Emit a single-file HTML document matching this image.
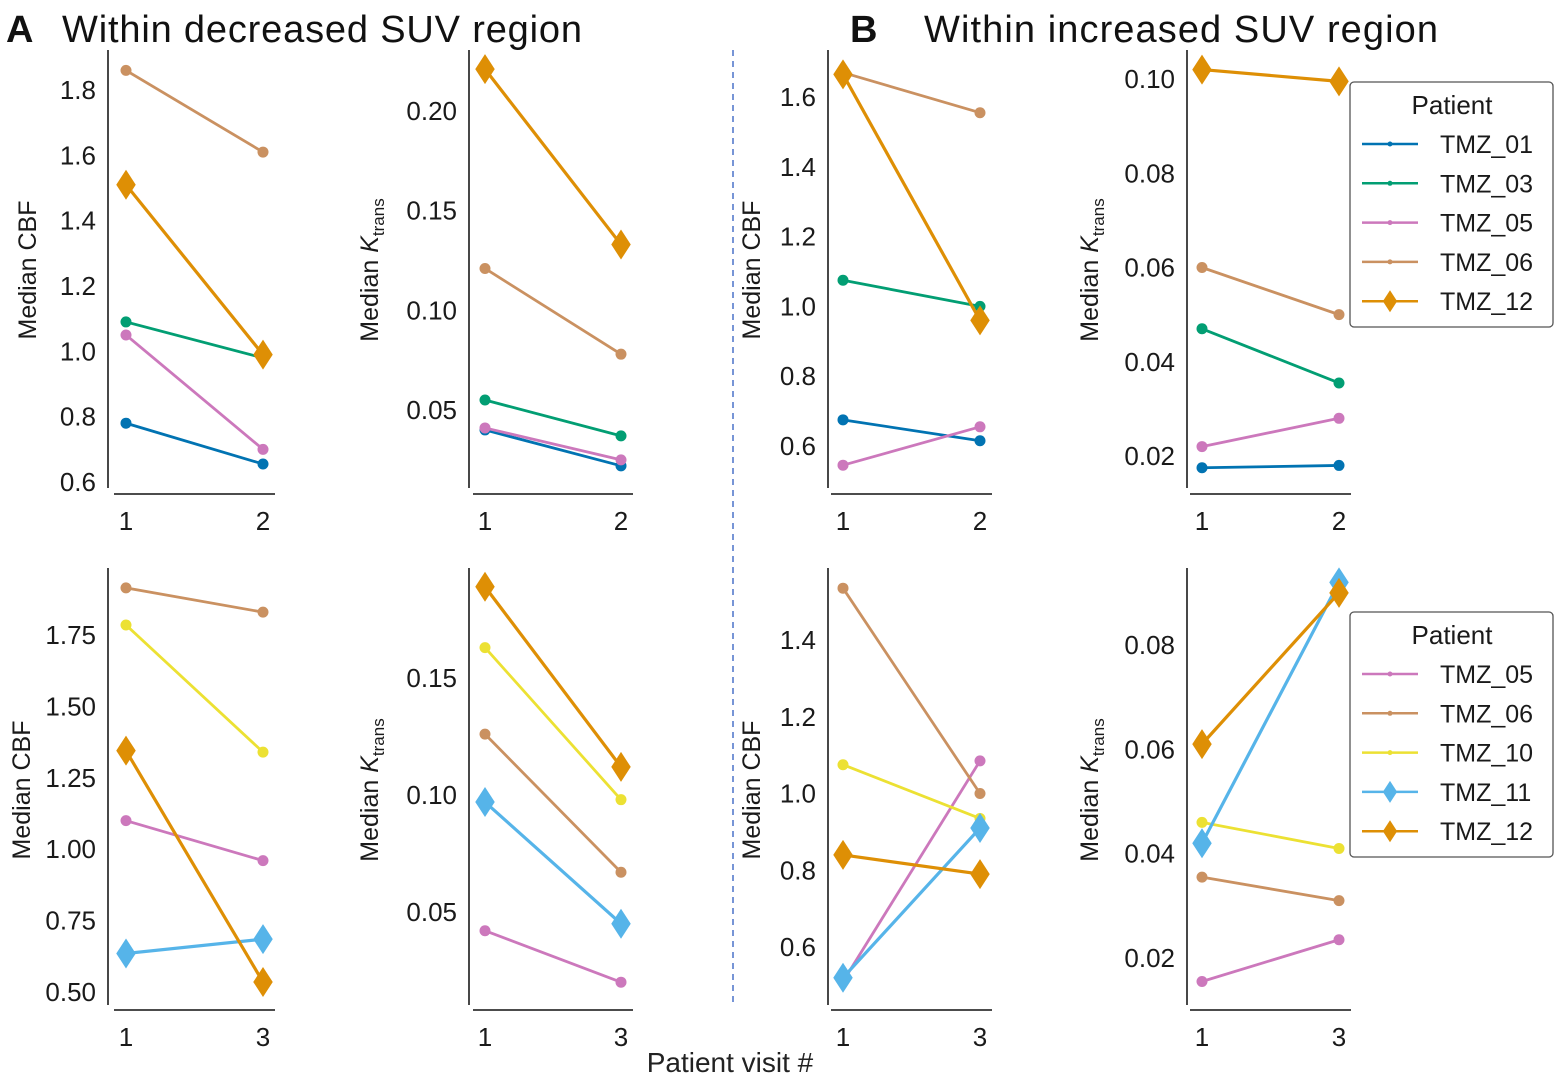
<!DOCTYPE html>
<html><head><meta charset="utf-8"><style>
html,body{margin:0;padding:0;background:#fff;}
svg{display:block;font-family:"Liberation Sans",Arial,sans-serif;}
</style></head><body>
<svg id="fig" width="1559" height="1080" viewBox="0 0 1559 1080" xmlns="http://www.w3.org/2000/svg">
<text x="6" y="42" font-size="38" font-weight="bold" fill="#111">A</text>
<text x="62" y="42" font-size="38" fill="#111" textLength="520">Within decreased SUV region</text>
<text x="850" y="42" font-size="38" font-weight="bold" fill="#111">B</text>
<text x="924" y="42" font-size="38" fill="#111" textLength="514">Within increased SUV region</text>
<line x1="733" y1="50" x2="733" y2="1002" stroke="#4a72c8" stroke-width="1.5" stroke-dasharray="6,5"/>
<text x="730" y="1072" font-size="28" text-anchor="middle" fill="#222">Patient visit #</text>
<g id="plots"></g>
</svg>
<script>
const colors={TMZ_01:"#0173b2",TMZ_03:"#029e73",TMZ_05:"#cc78bc",TMZ_06:"#ca9161",TMZ_10:"#ece133",TMZ_11:"#56b4e9",TMZ_12:"#de8f05"};
const diamonds=["TMZ_11","TMZ_12"];
const topPatients=["TMZ_01","TMZ_03","TMZ_05","TMZ_06","TMZ_12"];
const botPatients=["TMZ_05","TMZ_06","TMZ_10","TMZ_11","TMZ_12"];
const topVisits=["1","2"];
const botVisits=["1","3"];
// values per patient: [visit a, visit b]
const a1Values=[[0.78,0.655],[1.09,0.98],[1.05,0.70],[1.86,1.61],[1.51,0.99]];
const a2Values=[[0.040,0.022],[0.055,0.037],[0.041,0.025],[0.121,0.078],[0.221,0.133]];
const b1Values=[[0.675,0.615],[1.075,1.0],[0.545,0.655],[1.67,1.555],[1.665,0.96]];
const b2Values=[[0.0175,0.018],[0.047,0.0355],[0.022,0.028],[0.060,0.050],[0.102,0.0995]];
const a3Values=[[1.10,0.96],[1.915,1.83],[1.785,1.34],[0.635,0.685],[1.345,0.535]];
const a4Values=[[0.042,0.020],[0.126,0.067],[0.163,0.098],[0.097,0.045],[0.189,0.112]];
const b3Values=[[0.51,1.085],[1.535,1.0],[1.075,0.935],[0.52,0.91],[0.84,0.79]];
const b4Values=[[0.0155,0.0235],[0.0355,0.031],[0.046,0.041],[0.042,0.092],[0.061,0.090]];
const a1Ticks=["0.6","0.8","1.0","1.2","1.4","1.6","1.8"];
const a2Ticks=["0.05","0.10","0.15","0.20"];
const b1Ticks=["0.6","0.8","1.0","1.2","1.4","1.6"];
const b2Ticks=["0.02","0.04","0.06","0.08","0.10"];
const a3Ticks=["0.50","0.75","1.00","1.25","1.50","1.75"];
const a4Ticks=["0.05","0.10","0.15"];
const b3Ticks=["0.6","0.8","1.0","1.2","1.4"];
const b4Ticks=["0.02","0.04","0.06","0.08"];

const NS="http://www.w3.org/2000/svg";
const root=document.getElementById('plots');
function mk(tag,attrs,parent){const e=document.createElementNS(NS,tag);for(const k in attrs)e.setAttribute(k,attrs[k]);(parent||root).appendChild(e);return e;}

const panels=[
 {id:"a1",ax:108,x1:126,x2:263,row:0,v0:0.6,p0:482,v1:1.8,p1:90,vals:a1Values,ticks:a1Ticks,pts:topPatients,vis:topVisits,lab:"cbf",lx:36},
 {id:"a2",ax:469,x1:485,x2:621,row:0,v0:0.05,p0:410,v1:0.20,p1:111,vals:a2Values,ticks:a2Ticks,pts:topPatients,vis:topVisits,lab:"k",lx:378},
 {id:"b1",ax:828,x1:843,x2:980,row:0,v0:0.6,p0:446,v1:1.6,p1:97,vals:b1Values,ticks:b1Ticks,pts:topPatients,vis:topVisits,lab:"cbf",lx:760},
 {id:"b2",ax:1187,x1:1202,x2:1339,row:0,v0:0.02,p0:456,v1:0.10,p1:79,vals:b2Values,ticks:b2Ticks,pts:topPatients,vis:topVisits,lab:"k",lx:1098,legend:true},
 {id:"a3",ax:108,x1:126,x2:263,row:1,v0:0.5,p0:992,v1:1.75,p1:635,vals:a3Values,ticks:a3Ticks,pts:botPatients,vis:botVisits,lab:"cbf",lx:30},
 {id:"a4",ax:469,x1:485,x2:621,row:1,v0:0.05,p0:912,v1:0.15,p1:678,vals:a4Values,ticks:a4Ticks,pts:botPatients,vis:botVisits,lab:"k",lx:378},
 {id:"b3",ax:828,x1:843,x2:980,row:1,v0:0.6,p0:947,v1:1.4,p1:640,vals:b3Values,ticks:b3Ticks,pts:botPatients,vis:botVisits,lab:"cbf",lx:760},
 {id:"b4",ax:1187,x1:1202,x2:1339,row:1,v0:0.02,p0:958,v1:0.08,p1:645,vals:b4Values,ticks:b4Ticks,pts:botPatients,vis:botVisits,lab:"k",lx:1098,legend:true}
];

function marker(g,name,x,y,size){
  const c=colors[name];
  if(diamonds.includes(name)){
    const w=size*0.65,h=size*1.0;
    const m=mk('polygon',{points:`${x},${y-h} ${x+w},${y} ${x},${y+h} ${x-w},${y}`,fill:c},g);
    
    
  } else {
    const m=mk('circle',{cx:x,cy:y,r:size*0.5,fill:c},g);
    
    
  }
}

panels.forEach(p=>{
  const g=mk('g',{});
  
  
  const yS=v=>p.p0+(v-p.v0)*(p.p1-p.p0)/(p.v1-p.v0);
  const xs=[p.x1,p.x2];
  const top=p.row?568:50, bot=p.row?1005:488, xAxY=p.row?1010:494;
  const ya=mk('line',{x1:p.ax,y1:top,x2:p.ax,y2:bot,stroke:"#333","stroke-width":1.8},g);
  
  
  const xa=mk('line',{x1:p.x1-12,y1:xAxY,x2:p.x2+12,y2:xAxY,stroke:"#333","stroke-width":1.8},g);
  
  
  p.ticks.forEach(t=>{
    const tt=mk('text',{x:p.ax-12,y:yS(parseFloat(t))+9,"font-size":26,"text-anchor":"end",fill:"#1a1a1a"},g);
    tt.textContent=t;
    
    
  });
  p.vis.forEach((v,i)=>{
    const tt=mk('text',{x:xs[i],y:xAxY+36,"font-size":26,"text-anchor":"middle",fill:"#1a1a1a"},g);
    tt.textContent=v;
    
    
  });
  const cy=p.row?790:270;
  const lab=mk('text',{x:p.lx,y:cy,"font-size":25,"text-anchor":"middle",fill:"#1a1a1a",transform:`rotate(-90 ${p.lx} ${cy})`},g);
  
  
  if(p.lab==="cbf"){lab.textContent="Median CBF";}
  else{
    const s1=mk('tspan',{},lab);s1.textContent="Median ";
    const s2=mk('tspan',{"font-style":"italic"},lab);s2.textContent="K";
    const s3=mk('tspan',{"font-size":17,dy:6},lab);s3.textContent="trans";
  }
  p.pts.forEach((name,i)=>{
    const v=p.vals[i];
    const sg=mk('g',{},g);
    
    
    const isD=diamonds.includes(name);
    mk('line',{x1:xs[0],y1:yS(v[0]),x2:xs[1],y2:yS(v[1]),stroke:colors[name],"stroke-width":isD?3.2:2.8},sg);
    v.forEach((val,j)=>marker(sg,name,xs[j],yS(val),isD?15:11));
  });
  if(p.legend){
    const ly=p.row?612:82;
    const lg=mk('g',{},g);
    
    
    mk('rect',{x:1350,y:ly,width:203,height:245,rx:4,fill:"#fff",stroke:"#555","stroke-width":1.3},lg);
    const tt=mk('text',{x:1452,y:ly+32,"font-size":26,"text-anchor":"middle",fill:"#1a1a1a"},lg);
    tt.textContent="Patient";
    p.pts.forEach((name,i)=>{
      const y=ly+62+i*39.3;
      const e=mk('g',{},lg);
      
      
      mk('line',{x1:1362,y1:y,x2:1418,y2:y,stroke:colors[name],"stroke-width":2.5},e);
      marker(e,name,1390,y,diamonds.includes(name)?11:5);
      const t=mk('text',{x:1440,y:y+9,"font-size":25,fill:"#1a1a1a"},e);
      t.textContent=name;
    });
  }
});
</script>
</body></html>
